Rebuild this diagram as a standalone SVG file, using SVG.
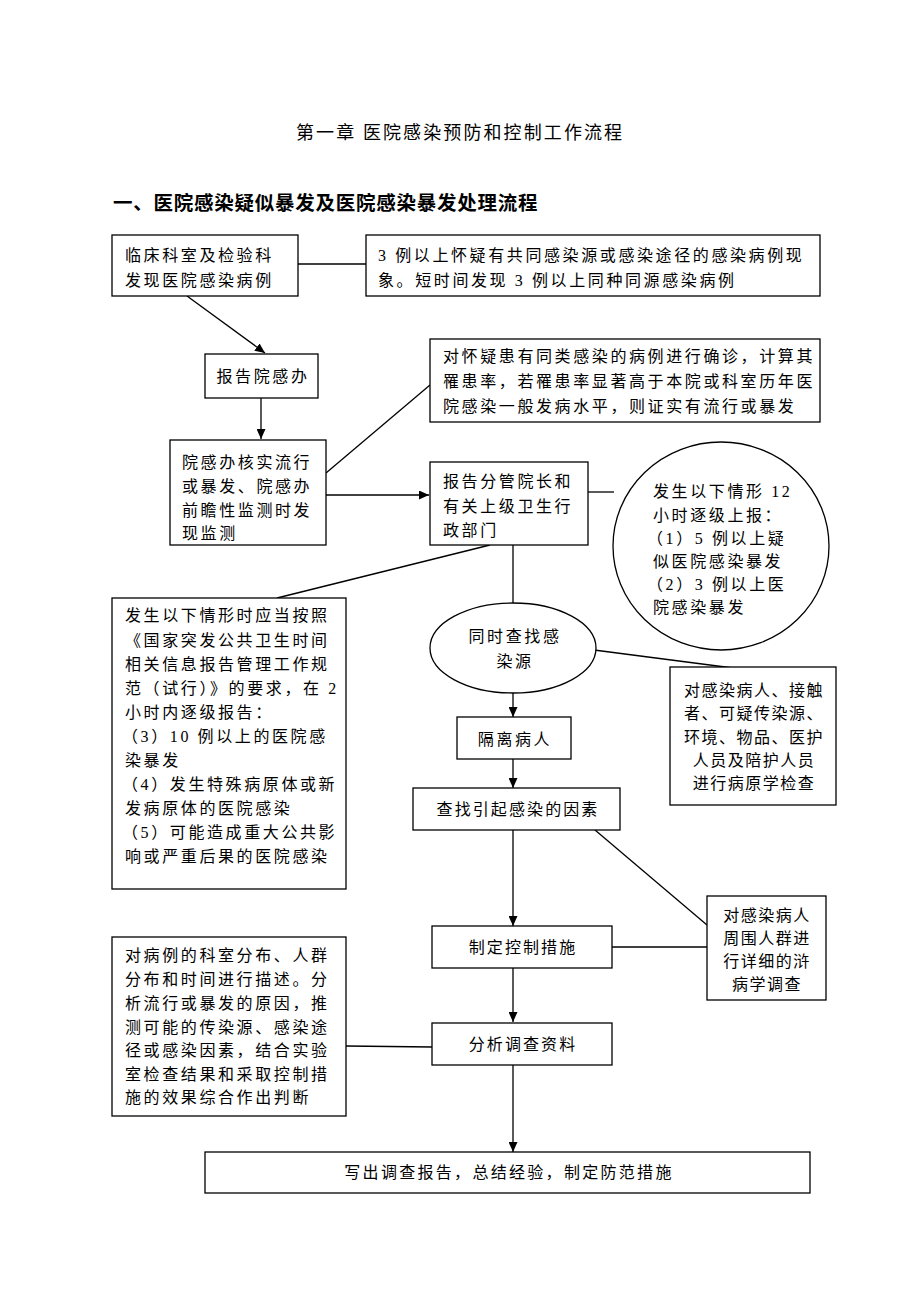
<svg xmlns="http://www.w3.org/2000/svg" width="920" height="1302" viewBox="0 0 920 1302">
<style>
text{font-family:"Liberation Serif","Noto Sans CJK SC",serif;fill:#000;font-size:16px;letter-spacing:2.6px}
.title{font-size:18px;letter-spacing:2.1px}
.head{font-size:19.5px;font-weight:bold;letter-spacing:0.75px}
.c{text-anchor:middle}
.s15{letter-spacing:1.5px}
.s21{letter-spacing:2.1px}
.s23{letter-spacing:2.3px}
rect,ellipse{fill:#fff;stroke:#000;stroke-width:1.3}
.conn line{stroke:#000;stroke-width:1.3}
.arr{marker-end:url(#ah)}
</style>
<defs>
<marker id="ah" markerUnits="userSpaceOnUse" markerWidth="11" markerHeight="9" refX="10" refY="4.5" orient="auto">
<path d="M0,0 L10,4.5 L0,9 Z" fill="#000"/>
</marker>
</defs>
<rect x="0" y="0" width="920" height="1302" style="fill:#fff;stroke:none"/>
<text class="title" x="296" y="139">第一章 医院感染预防和控制工作流程</text>
<text class="head" x="113" y="210">一、医院感染疑似暴发及医院感染暴发处理流程</text>

<g class="conn" id="connectors">
<line x1="298" y1="264" x2="366" y2="264"/>
<line class="arr" x1="187" y1="296" x2="265" y2="353"/>
<line class="arr" x1="261" y1="398" x2="261" y2="439"/>
<line x1="326" y1="473" x2="430" y2="385"/>
<line class="arr" x1="326" y1="495" x2="429" y2="495"/>
<line x1="588" y1="492" x2="614" y2="492"/>
<line x1="513" y1="545" x2="513" y2="603"/>
<line x1="490" y1="545" x2="277" y2="598"/>
<line x1="594" y1="650" x2="733" y2="668"/>
<line class="arr" x1="513" y1="693" x2="513" y2="717"/>
<line class="arr" x1="513" y1="759" x2="513" y2="788"/>
<line class="arr" x1="513" y1="830" x2="513" y2="926"/>
<line x1="595" y1="830" x2="707" y2="925"/>
<line x1="612" y1="947" x2="707" y2="947"/>
<line class="arr" x1="513" y1="968" x2="513" y2="1022"/>
<line x1="346" y1="1046" x2="432" y2="1047"/>
<line class="arr" x1="513" y1="1065" x2="513" y2="1152"/>
</g>

<g id="nodeA">
<rect x="112" y="235" width="186" height="61"/>
<text x="125" y="261">临床科室及检验科</text>
<text x="125" y="286">发现医院感染病例</text>
</g>
<g id="nodeB">
<rect x="366" y="235" width="454" height="61"/>
<text x="378" y="261">3 例以上怀疑有共同感染源或感染途径的感染病例现</text>
<text x="378" y="286">象。短时间发现 3 例以上同种同源感染病例</text>
</g>
<g id="nodeC">
<rect x="205" y="354" width="113" height="44"/>
<text class="c" x="263" y="382">报告院感办</text>
</g>
<g id="nodeD">
<rect x="170" y="440" width="156" height="105"/>
<text x="182" y="468">院感办核实流行</text>
<text x="182" y="492">或暴发、院感办</text>
<text x="182" y="516">前瞻性监测时发</text>
<text x="182" y="539">现监测</text>
</g>
<g id="nodeE">
<rect x="430" y="339" width="390" height="83"/>
<text x="443" y="362">对怀疑患有同类感染的病例进行确诊，计算其</text>
<text x="443" y="387">罹患率，若罹患率显著高于本院或科室历年医</text>
<text x="443" y="412">院感染一般发病水平，则证实有流行或暴发</text>
</g>
<g id="nodeF">
<rect x="430" y="462" width="158" height="83"/>
<text x="443" y="487">报告分管院长和</text>
<text x="443" y="512">有关上级卫生行</text>
<text x="443" y="536">政部门</text>
</g>
<g id="nodeG">
<ellipse cx="721" cy="546" rx="108" ry="104"/>
<text x="653" y="497">发生以下情形 12</text>
<text x="653" y="521">小时逐级上报：</text>
<text x="647" y="544">（1）5 例以上疑</text>
<text x="653" y="567">似医院感染暴发</text>
<text x="647" y="590">（2）3 例以上医</text>
<text x="653" y="613">院感染暴发</text>
</g>
<g id="nodeI">
<rect x="112" y="598" width="234" height="291"/>
<text x="125" y="621">发生以下情形时应当按照</text>
<text x="125" y="646">《国家突发公共卫生时间</text>
<text x="125" y="670">相关信息报告管理工作规</text>
<text x="125" y="694">范（试行）》的要求，在 2</text>
<text x="125" y="718">小时内逐级报告：</text>
<text x="122" y="742">（3）10 例以上的医院感</text>
<text x="125" y="766">染暴发</text>
<text x="122" y="790">（4）发生特殊病原体或新</text>
<text x="125" y="814">发病原体的医院感染</text>
<text x="122" y="838">（5）可能造成重大公共影</text>
<text x="125" y="862">响或严重后果的医院感染</text>
</g>
<g id="nodeH">
<ellipse cx="513" cy="648" rx="83" ry="45"/>
<text class="c" x="515" y="642">同时查找感</text>
<text class="c" x="515" y="667">染源</text>
</g>
<g id="nodeJ">
<rect x="670" y="667" width="166" height="138"/>
<text class="c s15" x="754" y="696">对感染病人、接触</text>
<text class="c s15" x="754" y="719">者、可疑传染源、</text>
<text class="c s15" x="754" y="743">环境、物品、医护</text>
<text class="c s15" x="754" y="766">人员及陪护人员</text>
<text class="c s15" x="754" y="789">进行病原学检查</text>
</g>
<g id="nodeK">
<rect x="457" y="717" width="114" height="42"/>
<text class="c" x="515" y="745">隔离病人</text>
</g>
<g id="nodeL">
<rect x="413" y="788" width="207" height="42"/>
<text class="c s21" x="518" y="815">查找引起感染的因素</text>
</g>
<g id="nodeN">
<rect x="707" y="896" width="119" height="104"/>
<text class="c s15" x="767" y="921">对感染病人</text>
<text class="c s15" x="767" y="944">周围人群进</text>
<text class="c s15" x="767" y="967">行详细的浒</text>
<text class="c s15" x="767" y="990">病学调查</text>
</g>
<g id="nodeM">
<rect x="432" y="926" width="180" height="42"/>
<text class="c s21" x="523" y="953">制定控制措施</text>
</g>
<g id="nodeO">
<rect x="432" y="1023" width="180" height="42"/>
<text class="c s21" x="523" y="1050">分析调查资料</text>
</g>
<g id="nodeP">
<rect x="112" y="937" width="234" height="179"/>
<text x="125" y="961">对病例的科室分布、人群</text>
<text x="125" y="985">分布和时间进行描述。分</text>
<text x="125" y="1009">析流行或暴发的原因，推</text>
<text x="125" y="1033">测可能的传染源、感染途</text>
<text x="125" y="1056">径或感染因素，结合实验</text>
<text x="125" y="1080">室检查结果和采取控制措</text>
<text x="125" y="1103">施的效果综合作出判断</text>
</g>
<g id="nodeQ">
<rect x="205" y="1152" width="605" height="41"/>
<text class="c s23" x="509" y="1178">写出调查报告，总结经验，制定防范措施</text>
</g>
</svg>
